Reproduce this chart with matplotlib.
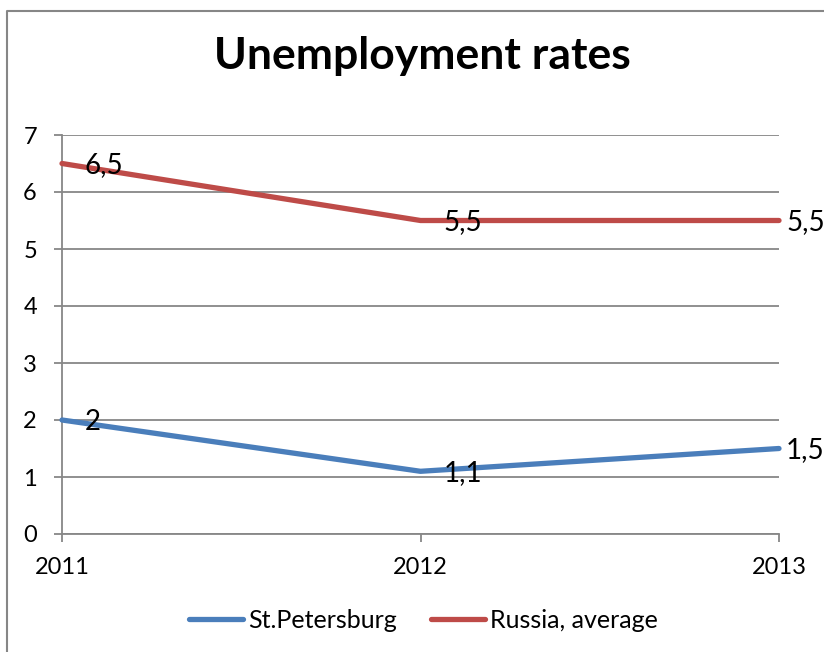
import matplotlib
matplotlib.use('Agg')
import matplotlib.pyplot as plt
from matplotlib.lines import Line2D

years = ['2011', '2012', '2013']
spb = [2, 1.1, 1.5]
russia = [6.5, 5.5, 5.5]
series_names = ['St.Petersburg', 'Russia, average']
y_ticks = [0, 1, 2, 3, 4, 5, 6, 7]

BLUE = '#4A7EBB'
RED = '#BE4B48'
GRID = '#878787'

plt.rcParams['font.family'] = ['Lato', 'DejaVu Sans']

fig = plt.figure(figsize=(8.24, 6.52), dpi=100)
W, H = 824, 652
ax = fig.add_axes([62 / W, 1 - 534 / H, (779 - 62) / W, (534 - 135) / H])

x = list(range(len(years)))
for vals, color, name in [(spb, BLUE, series_names[0]), (russia, RED, series_names[1])]:
    ax.plot(x, vals, color=color, lw=3.8, solid_capstyle='round',
            clip_on=False, label=name, zorder=3)
    for i, v in enumerate(vals):
        dx = 23 if i < len(vals) - 1 else 7
        ax.annotate(f'{v:g}'.replace('.', ','), (i, v), xytext=(dx, -2),
                    textcoords='offset pixels', ha='left', va='center',
                    fontsize=20, color='black', zorder=4, annotation_clip=False)

ax.set_xlim(0, 2)
ax.set_ylim(0, 7)
ax.set_xticks(x)
ax.set_xticklabels(years)
ax.set_yticks(y_ticks)
ax.yaxis.grid(True, color=GRID, lw=1.3)
ax.set_axisbelow(True)

for s in ['top', 'right']:
    ax.spines[s].set_visible(False)
for s in ['left', 'bottom']:
    ax.spines[s].set_color(GRID)
    ax.spines[s].set_linewidth(1.3)
ax.tick_params(axis='y', direction='out', length=6, width=1.3, color=GRID,
               labelsize=17, pad=12)
ax.tick_params(axis='x', direction='out', length=5.5, width=1.3, color=GRID,
               labelsize=17, pad=11)

fig.text(0.512, 1 - 69.5 / H, 'Unemployment rates', ha='center', va='baseline',
         fontsize=32, fontweight='bold')

fig.legend(loc='center', bbox_to_anchor=(0.514, 1 - 620 / H), ncol=2,
           frameon=False, fontsize=18, handlelength=2.16, handletextpad=0.2,
           columnspacing=1.36)

# chart area outline (left and top edges)
fig.add_artist(Line2D([7.5 / W, 7.5 / W, 1], [0, 1 - 10.5 / H, 1 - 10.5 / H],
                      transform=fig.transFigure, color='#868686', lw=1.5))

fig.savefig('out.png', dpi=100)
